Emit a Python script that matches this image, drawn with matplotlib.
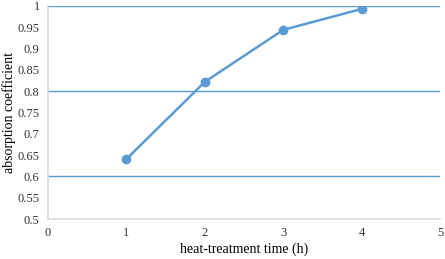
import numpy as np
import matplotlib
matplotlib.use('Agg')
import matplotlib.pyplot as plt

hours = [1, 2, 3, 4]
absorption = [0.641, 0.822, 0.944, 0.993]
y_ticks = [0.5, 0.55, 0.6, 0.65, 0.7, 0.75, 0.8, 0.85, 0.9, 0.95, 1.0]
y_labels = ['0.5', '0.55', '0.6', '0.65', '0.7', '0.75', '0.8', '0.85', '0.9', '0.95', '1']
grid_levels = [0.6, 0.8, 1.0]

plt.rcParams['font.family'] = ['Liberation Serif', 'DejaVu Serif']

fig = plt.figure(figsize=(4.45, 2.59), dpi=100)
ax = fig.add_axes([0.108, 0.154, 0.881, 0.823])

blue = '#5B9BD5'
for g in grid_levels:
    ax.axhline(g, color=blue, lw=1.0, zorder=1)

ax.plot(hours, absorption, color=blue, lw=1.8, marker='o', ms=6, zorder=3)

ax.set_xlim(0, 5)
ax.set_ylim(0.5, 1.0)
ax.set_yticks(y_ticks)
ax.set_yticklabels(y_labels)
ax.set_xticks(range(6))
ax.tick_params(length=0, labelsize=9, colors='#333333')
ax.tick_params(axis='x', pad=6)
ax.tick_params(axis='y', pad=6)

for s in ['top', 'right']:
    ax.spines[s].set_visible(False)
ax.spines['left'].set_color('#d9d9d9')
ax.spines['bottom'].set_color('#d9d9d9')
ax.spines['left'].set_linewidth(1.2)
ax.spines['bottom'].set_linewidth(1.2)

ax.set_xlabel('heat-treatment time (h)', fontsize=10)
ax.set_ylabel('absorption coefficient', fontsize=10)
ax.xaxis.set_label_coords(0.5, -0.11)
ax.yaxis.set_label_coords(-0.082, 0.5)

fig.savefig('out.png', dpi=100)
